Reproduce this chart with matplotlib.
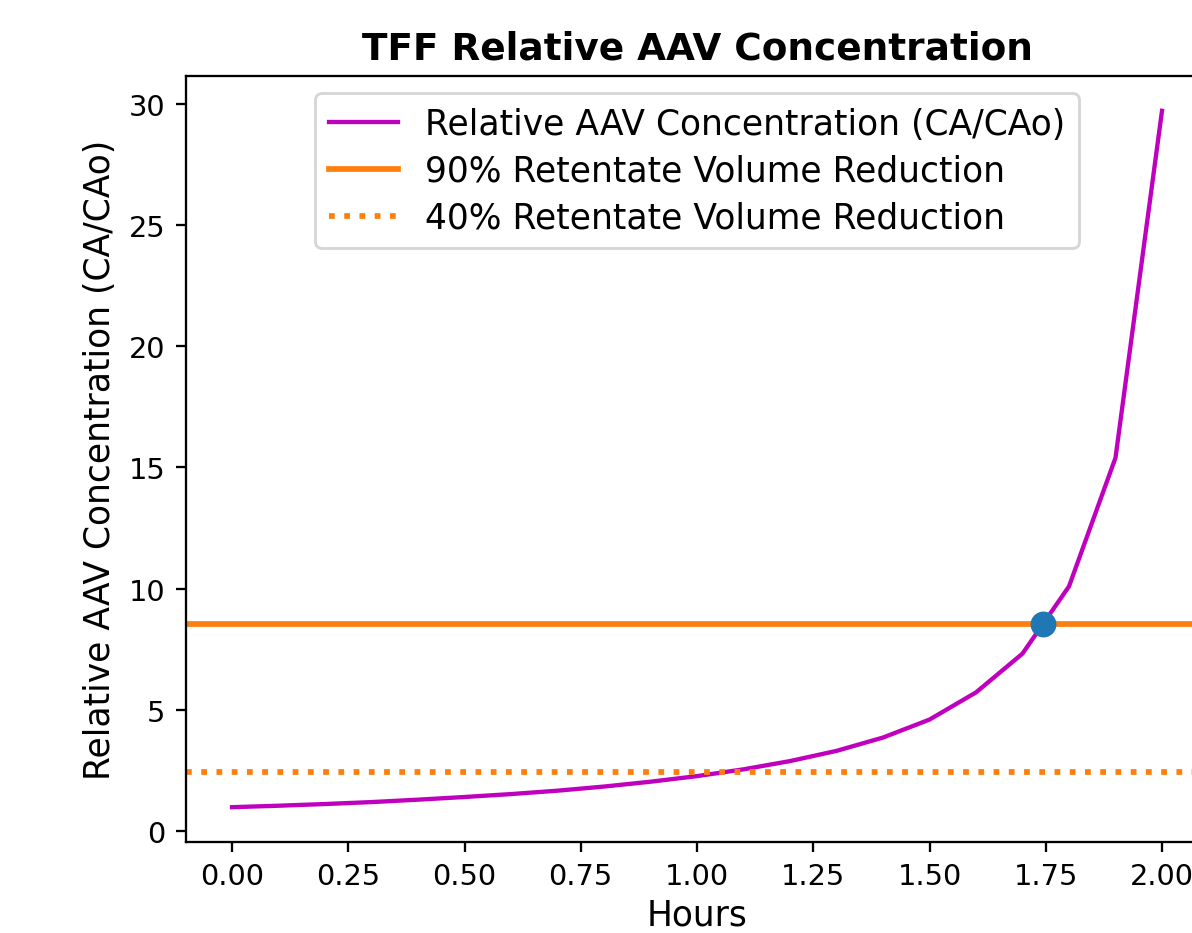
import matplotlib
matplotlib.use("Agg")
import matplotlib.pyplot as plt

# Relative concentration over time
hours = [0.0, 0.1, 0.2, 0.3, 0.4, 0.5, 0.6, 0.7, 0.8, 0.9, 1.0,
         1.1, 1.2, 1.3, 1.4, 1.5, 1.6, 1.7, 1.8, 1.9, 2.0]
conc_ratio = [1.00, 1.06, 1.13, 1.21, 1.31, 1.42, 1.54, 1.68, 1.85, 2.05, 2.28,
              2.56, 2.90, 3.32, 3.87, 4.61, 5.73, 7.33, 10.1, 15.4, 29.7]

# Volume reduction targets
target_90 = 8.57
target_40 = 2.47
cross_hour = 1.744

DPI = 207
fig = plt.figure(figsize=(1192 / DPI, 934 / DPI), dpi=DPI)
ax = fig.add_axes([185.5 / 1192, 91 / 934, 1023 / 1192, 766 / 934])

ax.plot(hours, conc_ratio, 'm-', label='Relative AAV Concentration (CA/CAo)')
ax.axhline(target_90, color='tab:orange', lw=2, label='90% Retentate Volume Reduction')
ax.axhline(target_40, color='tab:orange', lw=2, ls=':', label='40% Retentate Volume Reduction')
ax.plot([cross_hour], [target_90], 'o', color='tab:blue', markersize=8)

ax.set_title('TFF Relative AAV Concentration', fontweight='bold', fontsize=13)
ax.set_xlabel('Hours', fontsize=12, labelpad=2.5)
ax.set_ylabel('Relative AAV Concentration (CA/CAo)', fontsize=12)
ax.legend(loc='upper center', fontsize=12, labelspacing=0.37)

fig.savefig('out.png', dpi=DPI)
